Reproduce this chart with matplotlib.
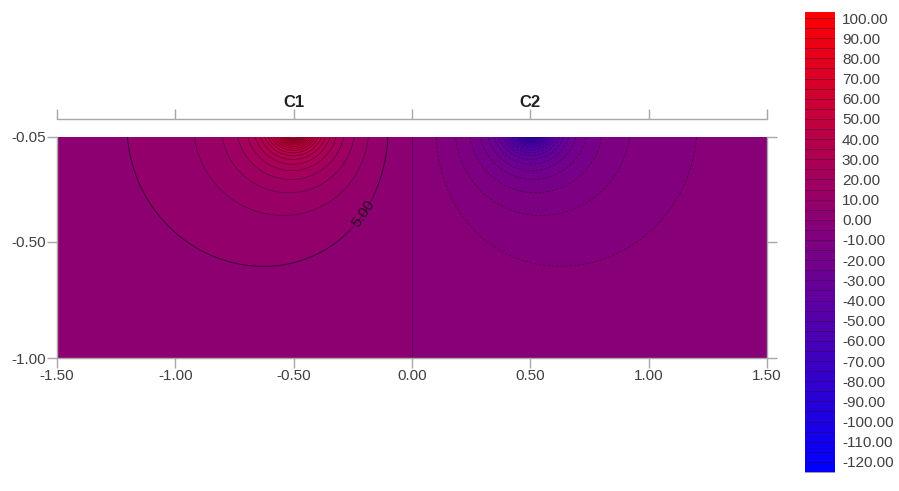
import numpy as np
import matplotlib.pyplot as plt
from matplotlib.colors import LinearSegmentedColormap, Normalize

plt.rcParams['font.family'] = ['Liberation Sans', 'DejaVu Sans']

# current electrodes on the surface: position and source strength
electrode_names = ['C1', 'C2']
electrode_x = [-0.5, 0.5]
electrode_q = [6.0, -6.0]

x_ticks = [-1.5, -1.0, -0.5, 0.0, 0.5, 1.0, 1.5]
y_ticks = [-0.05, -0.5, -1.0]
levels = np.arange(-125, 110, 5)
cbar_ticks = np.arange(-120, 101, 10)

x = np.linspace(-1.5, 1.5, 700)
y = np.linspace(-1.0, -0.05, 260)
X, Y = np.meshgrid(x, y)
V = np.zeros_like(X)
for ex, q in zip(electrode_x, electrode_q):
    V += q / np.sqrt((X - ex)**2 + Y**2)

cmap = LinearSegmentedColormap.from_list('br', [(0, 0, 1), (1, 0, 0)])
norm = Normalize(-125, 105)
line_col = (0.22, 0, 0.22)

fig = plt.figure(figsize=(8.99, 4.91), dpi=100)
ax = fig.add_axes([57/899, 133/491, 710/899, 221/491])

cf = ax.contourf(X, Y, V, levels=levels, cmap=cmap, norm=norm, extend='both')
cs = ax.contour(X, Y, V, levels=levels, colors=[line_col], linewidths=0.6, alpha=0.6)
lab = ax.contour(X, Y, V, levels=[5], colors=[line_col], linewidths=0.7, alpha=0.7)
lbl = ax.clabel(lab, fmt='%.2f', fontsize=11, manual=[(-0.2, -0.385)], inline=True)
for t in lbl:
    t.set_color('#2a0a2a')
    t.set_alpha(1.0)

ax.set_xlim(-1.5, 1.5)
ax.set_ylim(-1.0, -0.05)
ax.set_xticks(x_ticks)
ax.set_xticklabels(['%.2f' % v for v in x_ticks])
ax.set_yticks(y_ticks)
ax.set_yticklabels(['%.2f' % v for v in y_ticks])

gray = '#a8a8a8'
for s in ax.spines.values():
    s.set_color(gray)
    s.set_linewidth(1.0)
ax.spines['top'].set_position(('outward', 13))
ax.tick_params(axis='both', colors=gray, labelcolor='#404040', labelsize=11,
               length=7, width=1.0, direction='out')
ax.tick_params(axis='x', top=True, labeltop=False, pad=1)
ax.tick_params(axis='y', right=True, labelright=False, pad=1)

# electrode names above the detached top axis line
for name, ex in zip(electrode_names, electrode_x):
    ax.text(ex, 1.12, name, transform=ax.get_xaxis_transform(), ha='center', va='bottom',
            fontsize=12, fontweight='bold', color='#202020')

# colour scale on the right
cax = fig.add_axes([805/899, 18/491, 30/899, 461/491])
for lo in levels[:-1]:
    cax.axhspan(lo, lo + 5, color=cmap(norm(lo + 2.5)), lw=0)
    cax.axhline(lo, color=(0.2, 0, 0.2), lw=0.6, alpha=0.5)
cax.set_ylim(-125.5, 103)
cax.set_xlim(0, 1)
cax.set_xticks([])
cax.yaxis.tick_right()
cax.set_yticks(cbar_ticks)
cax.set_yticklabels(['%.2f' % v for v in cbar_ticks])
cax.tick_params(axis='y', length=0, labelsize=11, labelcolor='#404040', pad=5)
for s in cax.spines.values():
    s.set_visible(False)

fig.savefig('out.png', dpi=100)
